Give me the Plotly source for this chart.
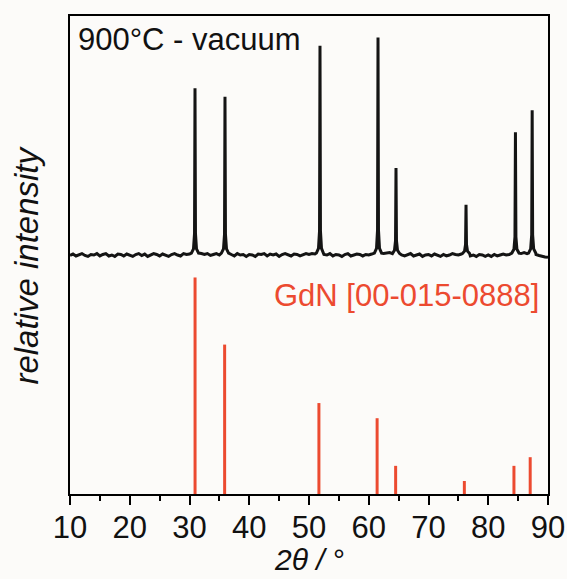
import plotly.graph_objects as go

# measured scan: background (0.5 deg grid, offsets from baseline) and peak points
bg_start, bg_step = 10.0, 0.5
bg_counts = [
    -0.1, 0.2, -0.2, 0.0, 0.3, -0.1, -0.3, 0.1, 0.0, 0.3, -0.2, 0.1, 0.3, -0.2, 0.0, -0.3, 0.2, 0.1, -0.2, 0.2,
    0.0, -0.3, 0.1, 0.3, -0.1, 0.2, -0.3, 0.0, 0.3, 0.1, -0.2, 0.2, 0.0, -0.3, 0.1, 0.3, 0.0, -0.2, 0.3, 0.1,
    0.2, 0.0, 0.3, 0.4, 0.3, 0.1, 0.3, -0.1, 0.1, 0.3, 0.0, 0.2, 0.4, 0.3, 0.1, -0.2, 0.3, 0.0, 0.1, -0.3,
    0.1, 0.0, -0.3, 0.2, 0.1, 0.3, -0.2, 0.2, 0.0, 0.2, -0.3, 0.1, 0.3, 0.0, -0.2, 0.2, 0.1, -0.2, 0.0, 0.3,
    0.1, 0.3, 0.2, 0.4, 0.3, 0.1, 0.0, 0.3, -0.2, 0.1, 0.0, -0.3, 0.1, 0.3, -0.2, 0.0, 0.2, 0.1, -0.2, 0.1,
    0.0, 0.2, 0.4, 0.5, 0.4, 0.3, 0.4, 0.5, 0.3, 0.1, 0.3, 0.0, -0.2, 0.1, 0.3, -0.2, 0.0, 0.2, -0.3, 0.0,
    0.1, -0.2, 0.2, 0.0, -0.3, 0.1, -0.2, 0.0, 0.3, 0.1, 0.0, 0.2, 0.3, 0.1, -0.2, 0.0, -0.3, 0.1, 0.0, -0.3,
    0.0, -0.3, 0.1, -0.2, 0.0, 0.2, 0.0, 0.1, 0.3, 0.4, 0.2, 0.3, 0.5, 0.3, 0.4, 0.2, 0.1, -0.1, -0.3, -0.4,
    -0.5,
]

peak_centers = [30.92, 35.94, 51.84, 61.55, 64.56, 76.28, 84.55, 87.35]
peak_2theta = [
    30.32, 30.67, 30.84, 30.92, 31.00, 31.17, 31.52,
    35.34, 35.69, 35.86, 35.94, 36.02, 36.19, 36.54,
    51.24, 51.59, 51.76, 51.84, 51.92, 52.09, 52.44,
    60.95, 61.30, 61.47, 61.55, 61.63, 61.80, 62.15,
    63.96, 64.31, 64.48, 64.56, 64.64, 64.81, 65.16,
    75.68, 76.03, 76.20, 76.28, 76.36, 76.53, 76.88,
    83.95, 84.30, 84.47, 84.55, 84.63, 84.80, 85.15,
    86.75, 87.10, 87.27, 87.35, 87.43, 87.60, 87.95,
]
peak_counts = [
    0.4, 1.3, 4.5, 34.9, 4.5, 1.3, 0.4,
    0.4, 1.3, 4.3, 33.1, 4.3, 1.3, 0.4,
    0.4, 1.4, 5.0, 43.8, 5.0, 1.4, 0.4,
    0.4, 1.4, 5.2, 45.5, 5.2, 1.4, 0.4,
    0.3, 1.0, 3.0, 18.2, 3.0, 1.0, 0.3,
    0.3, 0.8, 2.2, 10.5, 2.2, 0.8, 0.3,
    0.4, 1.2, 3.8, 25.7, 3.8, 1.2, 0.4,
    0.4, 1.3, 4.2, 30.3, 4.2, 1.3, 0.4,
]

# GdN reference pattern [00-015-0888]
ref_2theta = [30.93, 35.88, 51.66, 61.40, 64.50, 76.00, 84.30, 87.02]
ref_intensity = [100, 69, 42, 35, 13, 6, 13, 17]

FONT = "Liberation Sans, Arial, sans-serif"
BG = "#fcfbf9"
FS = 31

# merge background and peaks into one scan
bg_2theta = [bg_start + i * bg_step for i in range(len(bg_counts))]
points = [
    (x, y)
    for x, y in zip(bg_2theta, bg_counts)
    if all(abs(x - c) > 0.6 for c in peak_centers)
] + list(zip(peak_2theta, peak_counts))
points.sort()
scan_x = [p[0] for p in points]
scan_y = [50 + p[1] for p in points]

fig = go.Figure()
fig.add_trace(
    go.Bar(
        x=ref_2theta,
        y=[v * 0.453 for v in ref_intensity],
        width=0.5,
        marker=dict(color="#ec4a30", line=dict(width=0)),
    )
)
fig.add_trace(
    go.Scatter(
        x=scan_x,
        y=scan_y,
        mode="lines",
        line=dict(color="#141414", width=3),
    )
)

fig.update_xaxes(
    range=[10, 90],
    dtick=10,
    ticks="outside",
    ticklen=9,
    tickwidth=2,
    tickcolor="black",
    minor=dict(ticks="outside", ticklen=5, tickwidth=2, dtick=5, tickcolor="black"),
    showline=True,
    linewidth=2,
    linecolor="black",
    mirror=True,
    showgrid=False,
    zeroline=False,
    automargin=False,
    ticklabeloverflow="allow",
    ticklabelstandoff=-4,
    tickfont=dict(size=FS, color="#111", family=FONT),
)
fig.update_yaxes(
    range=[0, 100],
    showticklabels=False,
    ticks="",
    showline=True,
    linewidth=2,
    linecolor="black",
    mirror=True,
    showgrid=False,
    zeroline=False,
    automargin=False,
)

fig.update_layout(
    width=567,
    height=579,
    margin=dict(l=70, r=19, t=16, b=85),
    paper_bgcolor=BG,
    plot_bgcolor=BG,
    showlegend=False,
    font=dict(family=FONT, color="#111"),
    annotations=[
        dict(
            text="900°C - vacuum",
            xref="paper", yref="paper", x=0.0126, y=0.95,
            xanchor="left", yanchor="middle", showarrow=False,
            font=dict(size=FS, color="#111", family=FONT),
        ),
        dict(
            text="GdN [00-015-0888]",
            xref="paper", yref="paper", x=0.985, y=0.416,
            xanchor="right", yanchor="middle", showarrow=False,
            font=dict(size=FS, color="#ec4a30", family=FONT),
        ),
        dict(
            text="<i>relative intensity</i>",
            xref="paper", yref="paper", x=-0.093, y=0.479,
            xanchor="center", yanchor="middle", showarrow=False,
            textangle=-90,
            font=dict(size=33, color="#111", family=FONT),
        ),
        dict(
            text="<i>2θ / </i>°",
            xref="paper", yref="paper", x=0.5, y=-0.136,
            xanchor="center", yanchor="middle", showarrow=False,
            font=dict(size=30, color="#111", family=FONT),
        ),
    ],
)

# drop the default body margin so the figure fills the window
fig.write_html(
    "out.html",
    config={"displayModeBar": False},
    post_script="document.body.style.margin = '0';",
)
